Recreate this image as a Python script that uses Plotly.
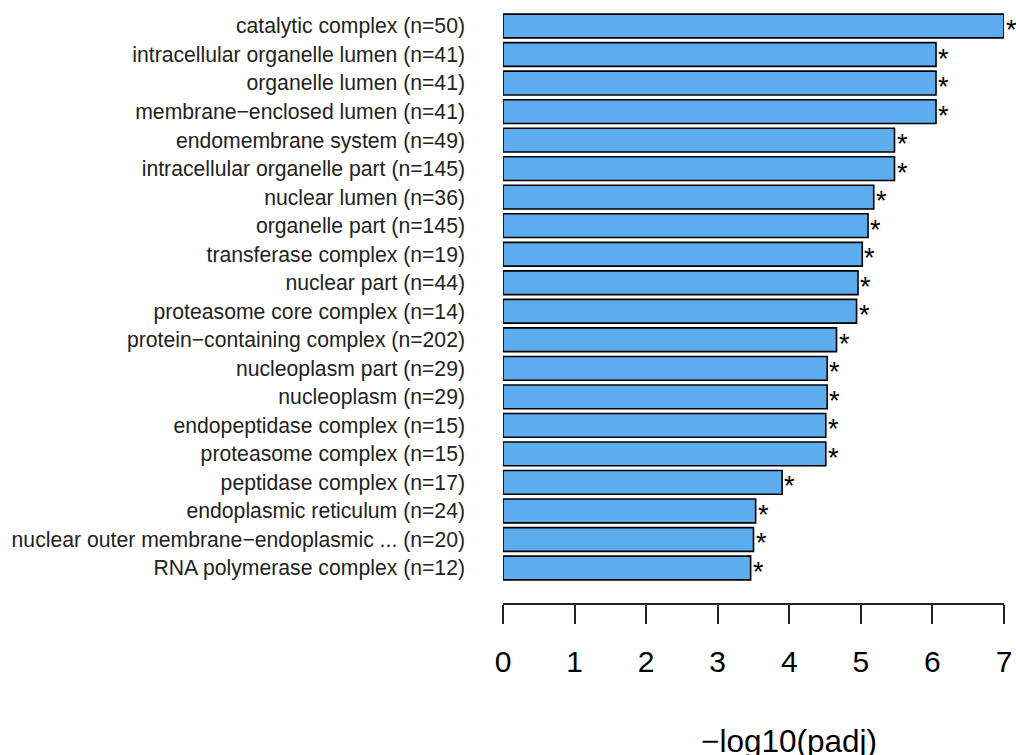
import plotly.graph_objects as go

terms = [
    "catalytic complex (n=50)",
    "intracellular organelle lumen (n=41)",
    "organelle lumen (n=41)",
    "membrane\u2212enclosed lumen (n=41)",
    "endomembrane system (n=49)",
    "intracellular organelle part (n=145)",
    "nuclear lumen (n=36)",
    "organelle part (n=145)",
    "transferase complex (n=19)",
    "nuclear part (n=44)",
    "proteasome core complex (n=14)",
    "protein\u2212containing complex (n=202)",
    "nucleoplasm part (n=29)",
    "nucleoplasm (n=29)",
    "endopeptidase complex (n=15)",
    "proteasome complex (n=15)",
    "peptidase complex (n=17)",
    "endoplasmic reticulum (n=24)",
    "nuclear outer membrane\u2212endoplasmic ... (n=20)",
    "RNA polymerase complex (n=12)",
]
neglog_padj = [7.00, 6.05, 6.05, 6.05, 5.47, 5.47, 5.18, 5.10, 5.02, 4.96,
               4.94, 4.66, 4.53, 4.53, 4.51, 4.51, 3.90, 3.53, 3.50, 3.46]
signif = ["*"] * len(terms)
x_ticks = [0, 1, 2, 3, 4, 5, 6, 7]

FONT = "Liberation Sans, Arial, sans-serif"

fig = go.Figure()
fig.add_trace(go.Bar(
    x=neglog_padj, y=terms, orientation="h",
    marker=dict(color="#5CACEE", line=dict(color="black", width=1.6)),
    width=0.833, hoverinfo="x+y",
))

for v, t, s in zip(neglog_padj, terms, signif):
    fig.add_annotation(x=v, y=t, text=s, showarrow=False, xanchor="left",
                       yanchor="middle", xshift=0, yshift=-4,
                       font=dict(family=FONT, size=27, color="black"))

fig.add_annotation(text="\u2212log10(padj)", xref="paper", yref="paper",
                   x=(789 - 503) / 501, y=-(741 - 603) / 598, xanchor="center",
                   yanchor="middle", showarrow=False,
                   font=dict(family=FONT, size=31.5, color="black"))

fig.update_layout(
    width=1016, height=755,
    margin=dict(l=503, r=12, t=5, b=152),
    plot_bgcolor="white", paper_bgcolor="white",
    showlegend=False,
    font=dict(family=FONT, color="black"),
    xaxis=dict(range=[0, 7], tickvals=x_ticks, ticks="outside", ticklen=19,
               tickwidth=1.5, tickcolor="#222", showline=True, linecolor="#222",
               linewidth=1.5, showgrid=False, zeroline=False,
               tickfont=dict(family=FONT, size=30, color="black"),
               ticklabelstandoff=12),
    yaxis=dict(range=[20.227, -0.736], showgrid=False, zeroline=False,
               showline=False, ticks="",
               tickfont=dict(family=FONT, size=21.2, color="#222"),
               ticklabelstandoff=37),
)

fig.write_html(
    "out.html",
    config={"displayModeBar": False},
    post_script="document.body.style.margin='0';document.body.style.overflow='hidden';",
)
